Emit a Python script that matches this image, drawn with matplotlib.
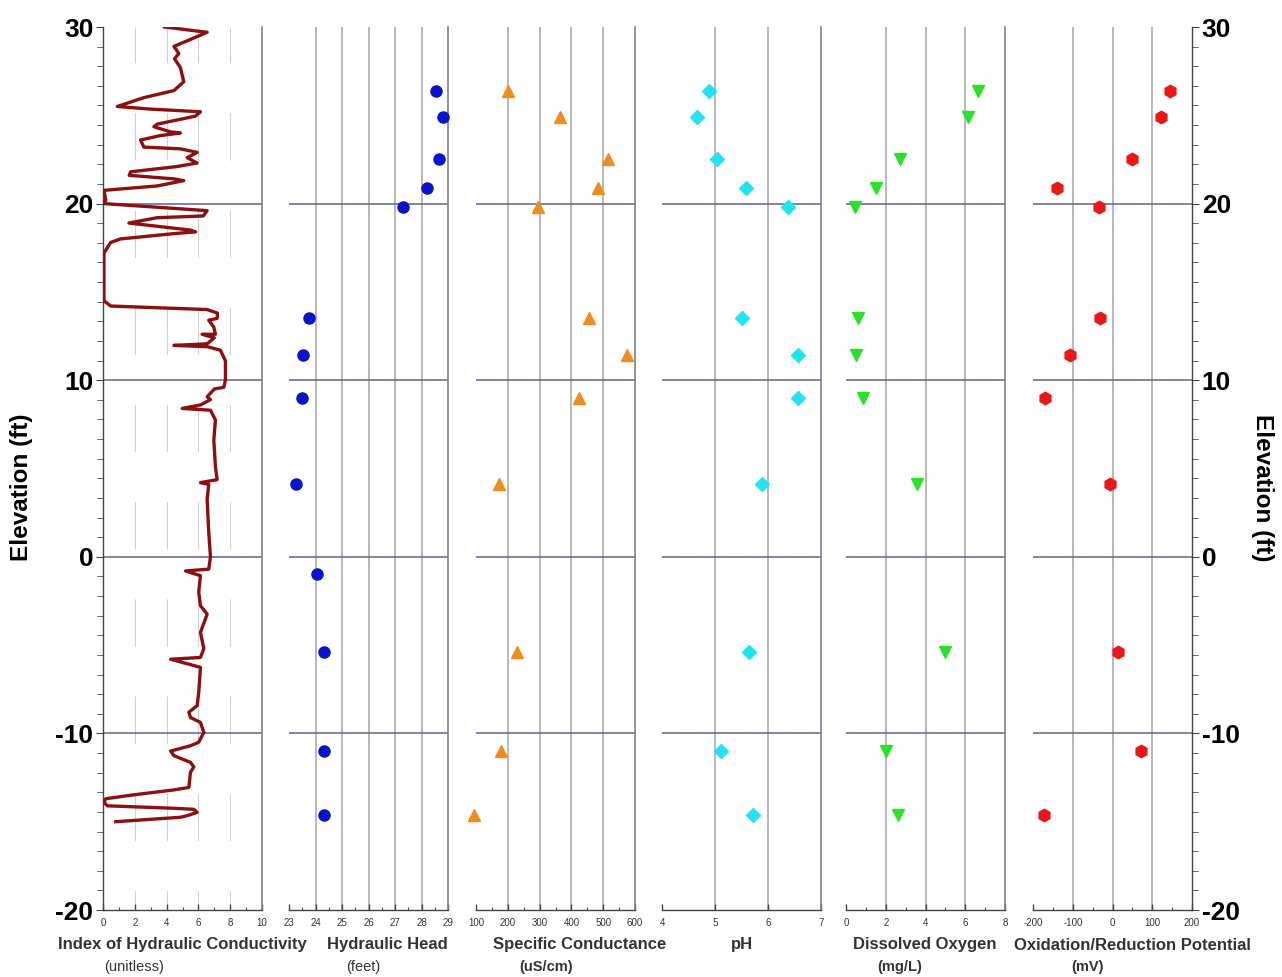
import matplotlib
matplotlib.use('Agg')
import matplotlib.pyplot as plt
from matplotlib.ticker import MultipleLocator, AutoMinorLocator

plt.rcParams['font.family'] = ['Liberation Sans', 'DejaVu Sans']
plt.rcParams['lines.scale_dashes'] = False
plt.rcParams['axes.unicode_minus'] = False

#=====================
#  data
#=====================
# hydraulic conductivity log (index vs elevation)
hc_index = [3.87, 6.55, 4.46, 4.77, 4.5, 4.87, 5.08, 4.46, 2.57, 2.4, 0.9, 3.0,
            6.13, 5.8, 3.41, 3.2, 4.25, 4.87, 3.6, 2.36, 2.57, 4.87, 5.92, 5.29,
            5.92, 4.67, 1.74, 1.65, 4.46, 5.08, 3.41, 0.06, 0.17, 0.06, 6.55, 6.3,
            3.4, 1.63, 5.5, 5.82, 4.46, 1.1, 0.48, 0.06, 0.06, 0.48, 6.55, 7.2,
            7.18, 6.65, 6.97, 7.07, 6.23, 7.0, 6.55, 4.46, 6.55, 7.38, 7.7, 7.7,
            7.6, 7.0, 6.55, 6.76, 6.13, 4.98, 6.76, 7.07, 6.97, 7.07, 7.18, 6.13,
            6.65, 6.55, 6.65, 6.76, 6.65, 5.19, 6.13, 6.02, 6.13, 6.55, 6.13, 6.34,
            6.13, 4.25, 6.13, 6.02, 5.92, 5.4, 5.5, 6.13, 6.34, 6.02, 5.5, 4.25,
            4.46, 5.5, 5.71, 5.5, 5.4, 4.46, 1.74, 0.17, 0.06, 0.27, 4.46, 5.71,
            5.92, 5.29, 4.87, 0.8]
hc_elev = [30.0, 29.7, 28.9, 28.5, 28.2, 27.7, 26.9, 26.4, 26.0, 25.95, 25.5, 25.35,
           25.2, 24.95, 24.5, 24.35, 24.06, 24.0, 23.85, 23.6, 23.2, 23.1, 22.9, 22.6,
           22.3, 22.1, 21.8, 21.6, 21.4, 21.3, 21.0, 20.75, 20.2, 20.0, 19.6, 19.3,
           19.2, 18.9, 18.5, 18.4, 18.3, 18.0, 17.8, 17.2, 14.5, 14.2, 14.0, 13.8,
           13.5, 13.4, 13.0, 12.6, 12.6, 12.4, 12.06, 11.97, 11.9, 11.7, 11.1, 10.0,
           9.6, 9.5, 9.06, 8.9, 8.6, 8.4, 8.3, 7.75, 6.6, 5.1, 4.37, 4.2,
           4.1, 3.25, 1.4, 0.0, -0.7, -0.8, -1.07, -2.0, -2.77, -3.25, -4.28, -5.2,
           -5.7, -5.8, -6.26, -7.68, -8.43, -8.8, -9.1, -9.38, -9.94, -10.5, -10.7, -11.0,
           -11.26, -11.64, -11.9, -12.2, -13.06, -13.2, -13.5, -13.7, -13.9, -14.1, -14.24, -14.3,
           -14.47, -14.66, -14.75, -15.0]

# sample elevations
elev = [26.4, 24.9, 22.5, 20.9, 19.8, 13.5, 11.4, 9.0, 4.1, -1.0, -5.4, -11.0, -14.6]
elev_nm1 = [26.4, 24.9, 22.5, 20.9, 19.8, 13.5, 11.4, 9.0, 4.1, -5.4, -11.0, -14.6]

head = [28.54, 28.81, 28.66, 28.2, 27.3, 23.76, 23.53, 23.49, 23.27, 24.06, 24.33, 24.33, 24.33]
cond = [200, 363, 515, 483, 296, 454, 575, 423, 173, 230, 179, 95]
ph = [4.89, 4.66, 5.04, 5.58, 6.37, 5.5, 6.56, 6.56, 5.88, 5.65, 5.12, 5.71]
do = [6.63, 6.15, 2.72, 1.5, 0.45, 0.6, 0.5, 0.85, 3.57, 4.98, 2.0, 2.6]
orp = [145, 121, 50, -139, -34, -31, -107, -170, -6, 14, 72, -172]

ref_elev = [20, 10, 0, -10]

# panel settings
xlims = [(0, 10), (23, 29), (100, 600), (4, 7), (0, 8), (-200, 200)]
majors = [2, 1, 100, 1, 2, 100]
minors = [1, 0.5, 50, None, 1, 50]
grids = [[2, 4, 6, 8], [24, 25, 26, 27, 28], [200, 300, 400, 500], [5, 6],
         [2, 4, 6], [-100, 0, 100]]
titles = ['Index of Hydraulic Conductivity', 'Hydraulic Head', 'Specific Conductance',
          'pH', 'Dissolved Oxygen', 'Oxidation/Reduction Potential']
units = ['(unitless)', '(feet)', '(uS/cm)', '', '(mg/L)', '(mV)']
unit_bold = [False, False, True, False, True, True]

#=====================
#  figure
#=====================
W, H = 1282, 977
fig = plt.figure(figsize=(W / 100, H / 100), dpi=100)
lefts = [103, 289, 476, 662, 846, 1033]
pw = 159
bot = 1 - 910 / H
ht = (910 - 27) / H
# label centres (pixels) as placed in the original sheet
title_x = [182, 387, 580, 742, 925, 1132]
unit_x = [134, 363, 546, 742, 900, 1088]

axes = []
for i, lp in enumerate(lefts):
    ax = fig.add_axes([lp / W, bot, pw / W, ht])
    ax.set_xlim(*xlims[i])
    ax.set_ylim(-20, 30)
    for s in ['top', 'left']:
        ax.spines[s].set_visible(False)
    ax.spines['right'].set_color('#808080')
    ax.spines['right'].set_linewidth(1.2)
    ax.spines['bottom'].set_color('#444444')
    ax.spines['bottom'].set_linewidth(1.0)
    ax.xaxis.set_major_locator(MultipleLocator(majors[i]))
    if minors[i]:
        ax.xaxis.set_minor_locator(MultipleLocator(minors[i]))
    ax.tick_params(axis='x', which='major', direction='in', length=4, width=1,
                   color='#444444', labelsize=7, labelcolor='#333333', pad=6)
    ax.tick_params(axis='x', which='minor', direction='in', length=2.5, width=0.8,
                   color='#444444')
    ax.tick_params(axis='y', which='both', left=False, labelleft=False)
    if i == 0:
        for g in grids[i]:
            ax.axvline(g, color='#d0d0d0', lw=0.8, ls=(20, (34, 36)), zorder=1)
    else:
        for g in grids[i]:
            ax.axvline(g, color='#ababab', lw=1.2, zorder=1)
    for r in ref_elev:
        ax.axhline(r, color='#5e5ea0', lw=1.1, zorder=2)
    fig.text(title_x[i] / W, 1 - 945 / H, titles[i], ha='center', va='center',
             fontsize=12, fontweight='bold', color='#333333')
    if units[i]:
        fig.text(unit_x[i] / W, 1 - 967 / H, units[i], ha='center', va='center',
                 fontsize=10.5, fontweight='bold' if unit_bold[i] else 'normal',
                 color='#333333')
    axes.append(ax)

# elevation axes
for ax, side in [(axes[0], 'left'), (axes[5], 'right')]:
    ax.spines[side].set_visible(True)
    ax.spines[side].set_color('#444444')
    ax.spines[side].set_linewidth(1.0)
    if side == 'left':
        ax.tick_params(axis='y', which='both', left=True, labelleft=True)
    else:
        ax.tick_params(axis='y', which='both', right=True, labelright=True)
    ax.yaxis.set_major_locator(MultipleLocator(10))
    ax.yaxis.set_minor_locator(AutoMinorLocator(9))
    ax.tick_params(axis='y', which='major', direction='out', length=5, color='#444444',
                   labelsize=19, pad=2)
    ax.tick_params(axis='y', which='minor', direction='out', length=4, color='#444444')
    for t in ax.get_yticklabels():
        t.set_fontweight('bold')

fig.text(0.017, 1 - 487 / H, 'Elevation (ft)', rotation=90, ha='center', va='center',
         fontsize=17.5, fontweight='bold')
fig.text(0.985, 1 - 488 / H, 'Elevation (ft)', rotation=270, ha='center', va='center',
         fontsize=17.5, fontweight='bold')

#=====================
#  plot the data
#=====================
axes[0].plot(hc_index, hc_elev, color='#8b1010', lw=2.4, zorder=3)
axes[1].plot(head, elev, 'o', color='#0a14c8', ms=8, ls='none', zorder=4, clip_on=False)
axes[2].plot(cond, elev_nm1, '^', color='#ee8c1e', ms=9, ls='none', zorder=4, clip_on=False)
axes[3].plot(ph, elev_nm1, 'D', color='#22e4ee', ms=7, ls='none', zorder=4, clip_on=False)
axes[4].plot(do, elev_nm1, 'v', color='#2ae02a', ms=9, ls='none', zorder=4, clip_on=False)
axes[5].plot(orp, elev_nm1, 'h', color='#e81818', ms=9, ls='none', zorder=4, clip_on=False)

fig.savefig('out.png', dpi=100)
